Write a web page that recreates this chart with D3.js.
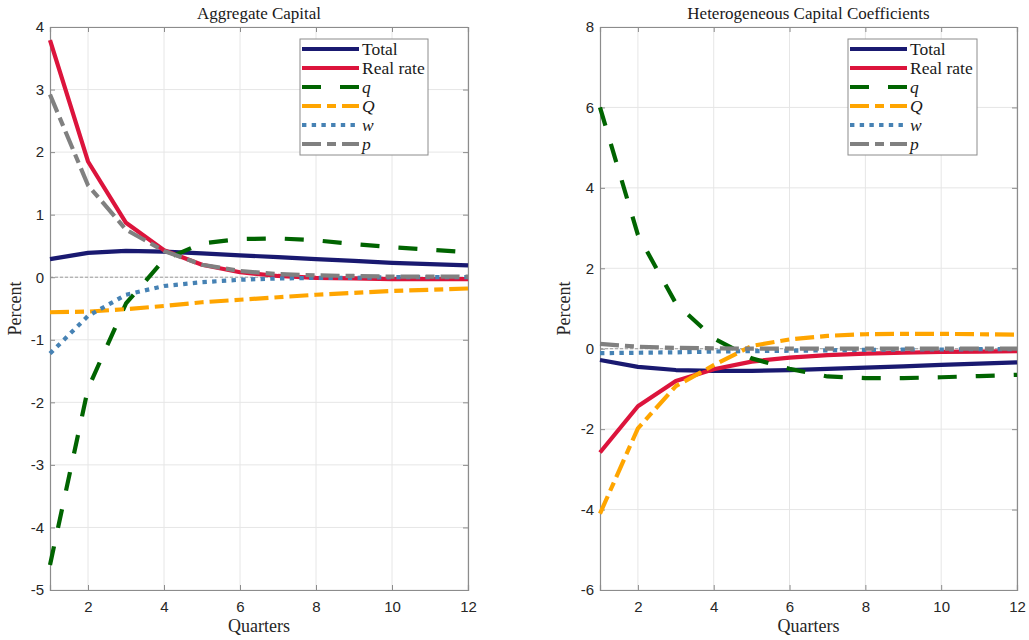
<!DOCTYPE html>
<html><head><meta charset="utf-8">
<script src="https://cdn.jsdelivr.net/npm/d3@7"></script>
<style>
body{margin:0;background:#fff;}
svg{display:block;}
</style></head>
<body>
<svg id="chart" width="1029" height="640"></svg>
<script>
const quarters = [1,2,3,4,5,6,7,8,9,10,11,12];
const seriesNames = ["Total","Real rate","q","Q","w","p"];
const xTicks = [2,4,6,8,10,12];

const aggTitle = "Aggregate Capital";
const aggYTicks = [-5,-4,-3,-2,-1,0,1,2,3,4];
const aggTotal = [0.29,0.39,0.42,0.41,0.38,0.35,0.32,0.29,0.26,0.23,0.21,0.19];
const aggReal  = [3.79,1.85,0.87,0.43,0.20,0.08,0.02,-0.01,-0.02,-0.03,-0.03,-0.03];
const aggq     = [-4.60,-1.78,-0.42,0.28,0.54,0.61,0.62,0.59,0.53,0.48,0.44,0.40];
const aggQ     = [-0.56,-0.55,-0.51,-0.46,-0.40,-0.36,-0.32,-0.28,-0.25,-0.22,-0.20,-0.18];
const aggw     = [-1.22,-0.62,-0.28,-0.14,-0.08,-0.04,-0.02,-0.01,-0.01,0,0,0];
const aggp     = [2.92,1.47,0.76,0.42,0.20,0.10,0.05,0.03,0.02,0.01,0.01,0.01];

const hetTitle = "Heterogeneous Capital Coefficients";
const hetYTicks = [-6,-4,-2,0,2,4,6,8];
const hetTotal = [-0.28,-0.45,-0.53,-0.55,-0.55,-0.53,-0.50,-0.47,-0.44,-0.40,-0.37,-0.34];
const hetReal  = [-2.58,-1.43,-0.80,-0.51,-0.32,-0.22,-0.16,-0.12,-0.10,-0.08,-0.07,-0.06];
const hetq     = [6.00,2.83,1.13,0.26,-0.24,-0.50,-0.69,-0.73,-0.73,-0.71,-0.68,-0.65];
const hetQ     = [-4.10,-1.98,-0.93,-0.41,0.07,0.23,0.32,0.36,0.37,0.37,0.36,0.35];
const hetw     = [-0.11,-0.10,-0.09,-0.07,-0.06,-0.05,-0.04,-0.03,-0.02,-0.02,-0.01,-0.01];
const hetp     = [0.12,0.05,0.02,0.01,0,0,0,0,0,0,0,0];

const styles = [
  {color:"#191970", dash:null, width:4.2, italic:false},
  {color:"#dc143c", dash:null, width:4.2, italic:false},
  {color:"#006400", dash:"19,19", width:4.2, italic:true},
  {color:"#ffa500", dash:"19,6,9,6", width:4.2, italic:true},
  {color:"#4682b4", dash:"4.4,5.3", width:4.2, italic:true},
  {color:"#808080", dash:"19,6,9,6", width:4.2, italic:true}
];

const svg = d3.select("#chart");
const serif = "'Liberation Serif', 'DejaVu Serif', serif";
const sans = "'Liberation Sans', Arial, sans-serif";

function panel(cfg){
  const {x0,x1,y0,y1,ydom,yticks,title,data,legX,legY,legW,ylabX} = cfg;
  const x = d3.scaleLinear().domain([1,12]).range([x0,x1]);
  const y = d3.scaleLinear().domain(ydom).range([y1,y0]);
  const g = svg.append("g");
  g.append("g").selectAll("line.v").data(xTicks).join("line")
    .attr("x1",d=>x(d)).attr("x2",d=>x(d)).attr("y1",y0).attr("y2",y1)
    .attr("stroke","#e6e6e6").attr("stroke-width",1);
  g.append("g").selectAll("line.h").data(yticks).join("line")
    .attr("x1",x0).attr("x2",x1).attr("y1",d=>y(d)).attr("y2",d=>y(d))
    .attr("stroke","#e6e6e6").attr("stroke-width",1);
  g.append("line").attr("x1",x0).attr("x2",x1).attr("y1",y(0)).attr("y2",y(0))
    .attr("stroke","#8a8a8a").attr("stroke-width",0.8).attr("stroke-dasharray","3,2");
  const ax = g.append("g").attr("transform",`translate(0,${y1})`)
    .call(d3.axisBottom(x).tickValues(xTicks).tickSize(-5).tickPadding(11).tickFormat(d3.format("d")));
  const ay = g.append("g").attr("transform",`translate(${x0},0)`)
    .call(d3.axisLeft(y).tickValues(yticks).tickSize(-5).tickPadding(6).tickFormat(d=>String(d)));
  const axT = g.append("g").attr("transform",`translate(0,${y0})`)
    .call(d3.axisTop(x).tickValues(xTicks).tickSize(-5).tickFormat(""));
  const ayR = g.append("g").attr("transform",`translate(${x1},0)`)
    .call(d3.axisRight(y).tickValues(yticks).tickSize(-5).tickFormat(""));
  [ax,ay,axT,ayR].forEach(a=>{
    a.select(".domain").attr("stroke","#8c8c8c").attr("stroke-width",1.2);
    a.selectAll(".tick line").attr("stroke","#8c8c8c");
    a.selectAll(".tick text").attr("fill","#262626").style("font-family",sans).style("font-size","15px");
  });
  const line = d3.line().x((d,i)=>x(quarters[i])).y(d=>y(d));
  data.forEach((arr,k)=>{
    const s = styles[k];
    g.append("path").datum(arr).attr("d",line).attr("fill","none")
      .attr("stroke",s.color).attr("stroke-width",s.width)
      .attr("stroke-dasharray",s.dash).attr("stroke-linejoin","round");
  });
  g.append("text").attr("x",(x0+x1)/2).attr("y",19).attr("text-anchor","middle")
    .style("font-family",serif).style("font-size","17px").attr("fill","#1a1a1a").text(title);
  g.append("text").attr("x",(x0+x1)/2).attr("y",632).attr("text-anchor","middle")
    .style("font-family",serif).style("font-size","18px").attr("fill","#262626").text("Quarters");
  g.append("text").attr("transform",`translate(${ylabX},${(y0+y1)/2}) rotate(-90)`).attr("text-anchor","middle")
    .style("font-family",serif).style("font-size","18px").attr("fill","#262626").text("Percent");
  const lg = g.append("g");
  lg.append("rect").attr("x",legX).attr("y",legY).attr("width",legW).attr("height",116)
    .attr("fill","#fff").attr("stroke","#8c8c8c").attr("stroke-width",1);
  seriesNames.forEach((nm,k)=>{
    const s = styles[k];
    const yy = legY + 10 + k*19;
    lg.append("line").attr("x1",legX+2).attr("x2",legX+59).attr("y1",yy).attr("y2",yy)
      .attr("stroke",s.color).attr("stroke-width",s.width).attr("stroke-dasharray",s.dash);
    lg.append("text").attr("x",legX+62).attr("y",yy+5.5)
      .style("font-family",serif).style("font-size","17.5px").style("font-style",s.italic?"italic":"normal")
      .attr("fill","#1a1a1a").text(nm);
  });
}

panel({x0:50,x1:468,y0:27,y1:590,ydom:[-5,4],yticks:aggYTicks,title:aggTitle,
  data:[aggTotal,aggReal,aggq,aggQ,aggw,aggp],legX:300,legY:39,legW:128,ylabX:21});
panel({x0:600,x1:1017,y0:27,y1:590,ydom:[-6,8],yticks:hetYTicks,title:hetTitle,
  data:[hetTotal,hetReal,hetq,hetQ,hetw,hetp],legX:848,legY:39,legW:129,ylabX:570});
</script>
</body></html>
